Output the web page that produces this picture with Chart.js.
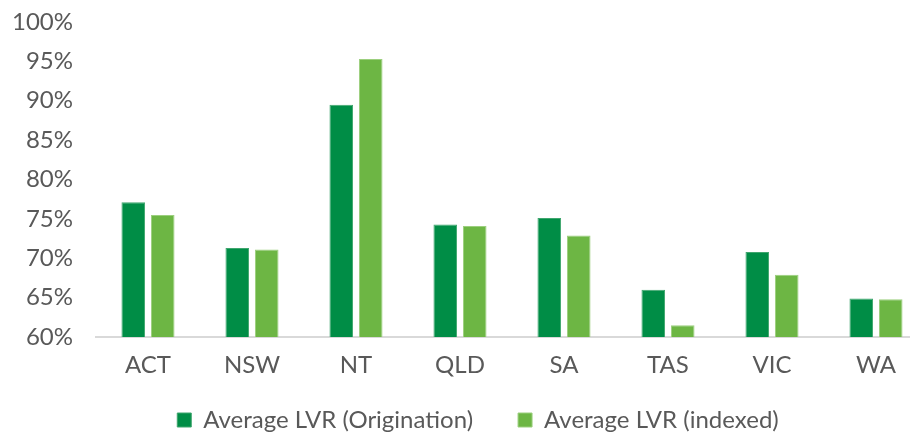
<!DOCTYPE html>
<html>
<head>
<meta charset="utf-8">
<script src="https://cdn.jsdelivr.net/npm/chart.js@4.4.0/dist/chart.umd.min.js"></script>
<style>
  html, body { margin: 0; padding: 0; background: #fff; overflow: hidden; }
  #wrap { width: 910px; height: 432px; overflow: hidden; }
  canvas { display: block; }
</style>
</head>
<body>
<div id="wrap"><canvas id="c" width="956" height="432"></canvas></div>
<script>
// Average loan-to-value ratio by state/territory
const categories = ['ACT', 'NSW', 'NT', 'QLD', 'SA', 'TAS', 'VIC', 'WA'];
const origination = [77.1, 71.3, 89.5, 74.3, 75.1, 66.0, 70.8, 64.9];
const indexed = [75.5, 71.1, 95.3, 74.1, 72.9, 61.5, 67.9, 64.8];
const yMin = 60;
const yMax = 100;
const yStep = 5;

const textColor = '#595959';
const fontFamily = 'Lato, "Noto Sans", sans-serif';

new Chart(document.getElementById('c'), {
  type: 'bar',
  data: {
    labels: categories,
    datasets: [
      {
        label: 'Average LVR (Origination)',
        data: origination,
        backgroundColor: '#008D46',
        borderColor: '#3FA66E',
        borderWidth: 1,
        barPercentage: 0.8,
        categoryPercentage: 0.567
      },
      {
        label: 'Average LVR (indexed)',
        data: indexed,
        backgroundColor: '#6DB644',
        borderColor: '#9CCF7E',
        borderWidth: 1,
        barPercentage: 0.8,
        categoryPercentage: 0.567
      }
    ]
  },
  options: {
    responsive: false,
    animation: false,
    devicePixelRatio: 1,
    layout: { padding: { top: 22, left: 0, right: 0, bottom: 0 } },
    plugins: {
      tooltip: { enabled: false },
      legend: {
        position: 'bottom',
        maxHeight: 69,
        labels: {
          boxWidth: 14,
          boxHeight: 14,
          padding: 45,
          color: textColor,
          font: { family: fontFamily, size: 24 }
        }
      }
    },
    scales: {
      x: {
        grid: { display: false, drawTicks: false },
        border: { display: true, color: '#D9D9D9', width: 2 },
        ticks: {
          color: textColor,
          mirror: true,
          padding: -43,
          font: { family: fontFamily, size: 24 }
        },
        afterFit: (scale) => { scale.height = 26; }
      },
      y: {
        min: yMin,
        max: yMax,
        grid: { display: false, drawTicks: false },
        border: { display: false },
        ticks: {
          stepSize: yStep,
          padding: 23,
          color: textColor,
          font: { family: fontFamily, size: 24 },
          callback: (v) => v + '%'
        },
        afterFit: (scale) => {
          scale.width = 96;
          scale.paddingTop = 0;
          scale.paddingBottom = 0;
        }
      },
      // empty right-hand margin axis
      margin: {
        position: 'right',
        display: true,
        grid: { display: false },
        border: { display: false },
        ticks: { display: false },
        afterFit: (scale) => { scale.width = 28; }
      }
    }
  }
});
</script>
</body>
</html>
